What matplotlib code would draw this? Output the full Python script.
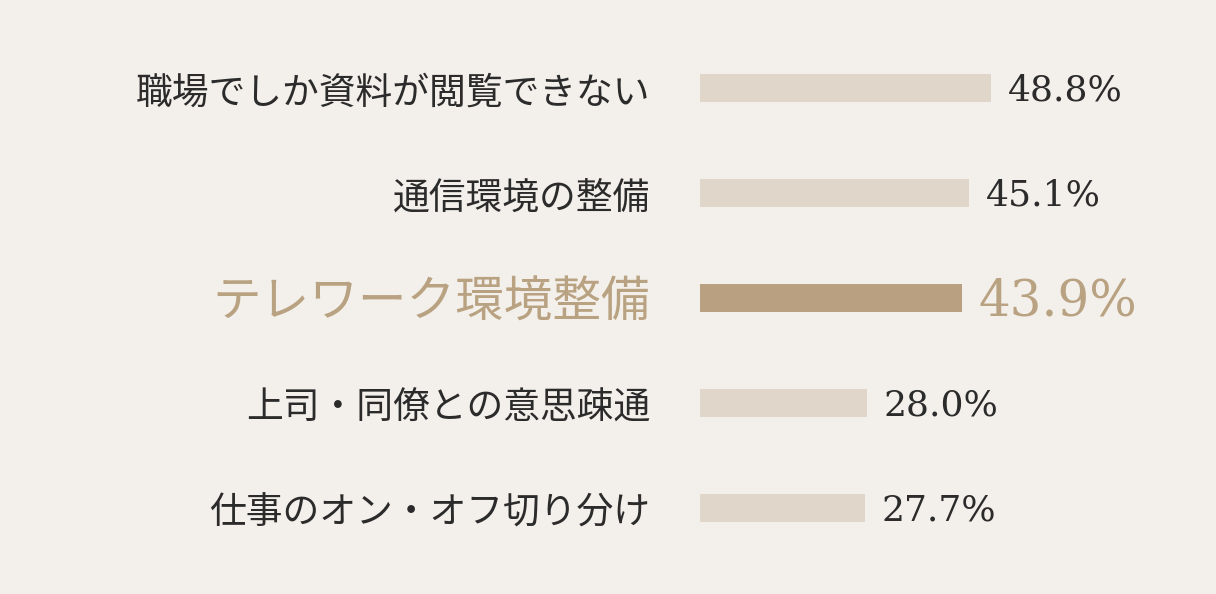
import matplotlib
matplotlib.use("Agg")
import matplotlib.pyplot as plt

# data
labels = ["職場でしか資料が閲覧できない", "通信環境の整備", "テレワーク環境整備",
          "上司・同僚との意思疎通", "仕事のオン・オフ切り分け"]
values = [48.8, 45.1, 43.9, 28.0, 27.7]
highlight = 2

bg = "#f3f0eb"
bar_light = "#e0d6ca"
bar_dark = "#b8a080"
txt_dark = "#2b2b2b"
txt_accent = "#b9a281"

jp_font = ["Noto Sans CJK JP", "DejaVu Sans"]
num_font = ["DejaVu Serif"]

fig = plt.figure(figsize=(12.16, 5.94), dpi=100)
fig.patch.set_facecolor(bg)

# axes starts where the bars start (x=700px)
ax = fig.add_axes([700 / 1216, 0, 516 / 1216, 1])
ax.set_facecolor(bg)
ax.set_xlim(0, 86.6)
ax.set_ylim(4.819, -0.838)
ax.axis("off")

ypos = list(range(len(labels)))
colors = [bar_dark if i == highlight else bar_light for i in ypos]
ax.barh(ypos, values, height=0.267, color=colors, edgecolor="none")

for i, (lab, v) in enumerate(zip(labels, values)):
    hi = i == highlight
    c = txt_accent if hi else txt_dark
    ax.annotate(lab, xy=(0, i), xytext=(-36, -3.5), textcoords="offset points",
                ha="right", va="center", fontsize=35 if hi else 26.5,
                family=jp_font, color=c)
    ax.annotate(f"{v:.1f}%", xy=(v, i), xytext=(12, -2.5 if hi else -2),
                textcoords="offset points",
                ha="left", va="center", fontsize=36 if hi else 26,
                family=num_font, color=c)

fig.savefig("out.png", dpi=100, facecolor=bg)
